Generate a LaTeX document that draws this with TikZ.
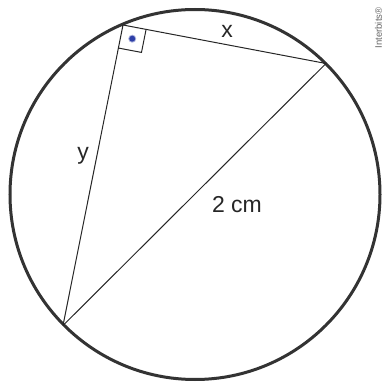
\documentclass[tikz,border=0pt]{standalone}
\usepackage{fontspec}
\setmainfont{Liberation Sans}
\usetikzlibrary{calc}
\definecolor{circ}{HTML}{333333}
\definecolor{dotblue}{HTML}{2E3FA8}
\tikzset{
  side/.style={draw=black!85, line width=1pt},
  rim/.style={draw=circ, line width=3pt},
  lbl/.style={font=\fontsize{23}{27}\selectfont, text=black!85, inner sep=0pt},
  rightmark/.style={draw=black!85, line width=1pt}
}
\begin{document}
\begin{tikzpicture}[x=1pt,y=-1pt]
\useasboundingbox (0,0) rectangle (383,382);
\coordinate (O) at (195,194.5);
\coordinate (A) at (123,25);
\coordinate (B) at (326,63.5);
\coordinate (C) at (63,325.5);
\draw[rim] (O) circle[radius=185];
\draw[side] (A) -- (B);
\draw[side] (A) -- (C);
\draw[side] (B) -- (C);
\coordinate (P) at ($(A)!23.5pt!(B)$);
\coordinate (Q) at ($(A)!23.5pt!(C)$);
\coordinate (R) at ($(P)+(Q)-(A)$);
\draw[rightmark] (P) -- (R) -- (Q);
\fill[dotblue!40] ($(A)!0.5!(R)$) circle[radius=4];
\fill[dotblue] ($(A)!0.5!(R)$) circle[radius=3];
\node[lbl] (lx) at (227,31) {x};
\node[lbl] (ly) at (83,156) {y};
\node[lbl] (ld) at (237,205) {2 cm};
\node[font=\fontsize{9.5}{11}\selectfont, text=black!60, rotate=90, inner sep=0pt] (wm) at (378.5,28) {Interbits®};
\end{tikzpicture}
\end{document}
